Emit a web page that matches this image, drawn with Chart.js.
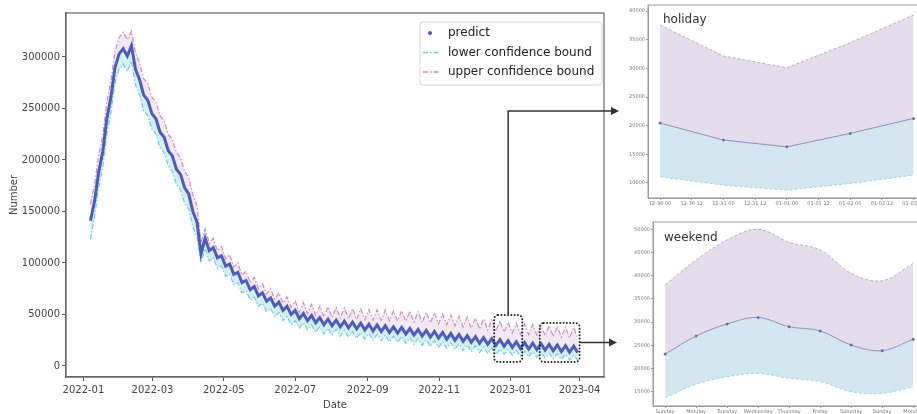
<!DOCTYPE html>
<html lang="en">
<head>
  <meta charset="UTF-8">
  <title>predict with confidence bounds</title>
  <script src="https://cdn.jsdelivr.net/npm/chart.js"></script>
  <style>
    body { margin: 0; background: #fff; overflow: hidden; }
    #wrap { position: relative; width: 917px; height: 414px; overflow: hidden; }
    canvas { position: absolute; }
  </style>
</head>
<body>
<div id="wrap">
  <canvas id="main" width="625" height="414" style="left:0;top:0"></canvas>
  <canvas id="holiday" width="320" height="210" style="left:612px;top:0"></canvas>
  <canvas id="weekend" width="320" height="202" style="left:612px;top:212px"></canvas>
</div>

<script>
  // main chart: one sample every half week, days counted from 2022-01-01
  const firstDay = 6;
  const halfWeek = 3.5;

  const predict = [141000,160000,188000,208000,240000,261000,290000,303000,308000,301000,
    311000,288000,278000,263000,258000,245000,240000,227000,222000,209000,
    204000,191000,186000,173000,167000,150000,140000,109000,124000,112000,
    115000,105000,107000,97000,99000,89000,91000,81000,83000,74000,
    77000,68000,71000,63000,66000,58000,62000,54000,58000,50000,
    54000,46000,51000,44000,49000,42000,47000,40000,45500,39000,
    44500,38000,43500,37000,42500,36000,41500,35000,40500,34000,
    39800,33500,39000,32500,38000,32000,37500,31000,36500,30000,
    35500,29000,34500,28000,33500,27000,32500,26000,31500,25000,
    30500,24000,29500,23000,28500,22000,27500,21000,26500,20000,
    25500,19000,24500,18000,23500,17000,22800,16500,22200,16000,
    21700,15400,21000,14700,20400,14000,19700,13400,19200,13000];

  const upper = [157000,176000,204000,224000,256000,277000,306000,319000,324000,317000,
    325000,304000,294000,279000,274000,261000,256000,243000,238000,225000,
    220000,207000,202000,189000,183000,166000,156000,120000,133000,119000,
    124000,112000,116000,104000,108000,96000,100000,88000,92000,81000,
    86000,75000,80000,70000,75000,65000,71000,61000,67000,57000,
    63000,52000,61500,50700,59900,49200,58400,47600,57400,47100,
    56900,46600,56300,46100,55800,45500,55300,45000,54700,44500,
    54500,44400,54200,43900,53600,43900,53600,43400,53100,42800,
    52600,42300,52000,41800,51500,41000,50500,40000,49500,39000,
    48500,38000,47500,37000,46500,36000,45500,35000,44500,34000,
    43500,33000,42500,32000,41500,31000,40800,30500,40200,30000,
    39700,29400,39000,28700,38400,28000,37700,27400,37200,27000];

  const lower = [123000,145000,173000,193000,225000,246000,275000,288000,293000,286000,
    296000,273000,263000,248000,243000,230000,225000,212000,207000,194000,
    189000,176000,171000,158000,152000,135000,125000,100000,114000,102000,
    105000,95000,97000,87000,89000,79000,81000,71000,73000,64000,
    67000,58000,61000,53000,56000,48000,52000,44000,48000,40000,
    44000,37000,42000,35000,40000,33000,38000,31000,36500,30000,
    35500,29000,34500,28000,33500,27000,32500,26000,31500,25000,
    30800,24500,30000,23500,29000,23000,28500,22000,27500,21000,
    26500,20000,25500,19000,24500,18000,23500,17000,22500,16000,
    21500,15000,20500,14000,19500,13000,18500,12000,17500,11000,
    16500,11500,16000,10500,15000,9500,14300,9000,13700,8500,
    13200,7900,12500,7200,11900,6500,11200,5900,10700,5500];

  const xTickLabels = ['2022-01', '2022-03', '2022-05', '2022-07', '2022-09', '2022-11', '2023-01', '2023-04'];
  const xTickDays = [0, 59, 120, 181, 243, 304, 365, 424];
  const yTicks = [0, 50000, 100000, 150000, 200000, 250000, 300000];

  // insets
  const holidayTicks = ['12-30 00', '12-30 12', '12-31 00', '12-31 12', '01-01 00', '01-01 12', '01-02 00', '01-02 12', '01-03 00'];
  const holidayDates = ['12-30 00', '12-31 00', '01-01 00', '01-02 00', '01-03 00'];
  const holidayPredict = [20450, 17500, 16300, 18650, 21270];
  const holidayUpper = [37550, 32150, 30100, 34470, 39300];
  const holidayLower = [11080, 9630, 8760, 9930, 11380];
  const holidayYTicks = [10000, 15000, 20000, 25000, 30000, 35000, 40000];

  const weekendDays = ['Sunday', 'Monday', 'Tuesday', 'Wednesday', 'Thursday', 'Friday', 'Saturday', 'Sunday', 'Monday'];
  const weekendPredict = [23100, 27000, 29600, 31000, 29000, 28100, 25050, 23850, 26300];
  const weekendUpper = [38000, 43400, 47700, 50000, 47200, 45550, 40500, 38900, 42650];
  const weekendLower = [13700, 16650, 18230, 18950, 17900, 17200, 15000, 14650, 16050];
  const weekendYTicks = [15000, 20000, 25000, 30000, 35000, 40000, 45000, 50000];

  // zoom boxes on the main chart (days / values)
  const zoomBoxes = [
    { from: 351, to: 375, top: 49500, bottom: 3900 },
    { from: 390, to: 424, top: 41700, bottom: 3900 }
  ];
  const arrowLevel = 247500;

  Chart.defaults.font.family = 'DejaVu Sans';
  Chart.defaults.animation = false;

  const asPoints = vals => vals.map((v, i) => ({ x: firstDay + i * halfWeek, y: v }));

  const predictColor = '#4b5db9';
  const lowerColor = '#74cbd8';
  const upperColor = '#c98cc2';

  function arrowHead(ctx, x, y) {
    ctx.beginPath();
    ctx.moveTo(x, y);
    ctx.lineTo(x - 8, y - 4);
    ctx.lineTo(x - 8, y + 4);
    ctx.closePath();
    ctx.fill();
  }

  const mainExtras = {
    id: 'mainExtras',
    afterDraw(chart) {
      const { ctx, chartArea: a, scales: { x, y } } = chart;
      ctx.save();
      ctx.strokeStyle = '#666';
      ctx.lineWidth = 1.2;
      ctx.strokeRect(a.left, a.top, a.right - a.left, a.bottom - a.top);

      // dotted zoom boxes
      ctx.strokeStyle = '#222';
      ctx.lineWidth = 2;
      ctx.lineCap = 'round';
      ctx.setLineDash([0, 3.3]);
      const px = zoomBoxes.map(b => ({
        l: x.getPixelForValue(b.from), r: x.getPixelForValue(b.to),
        t: y.getPixelForValue(b.top), b: y.getPixelForValue(b.bottom)
      }));
      px.forEach(p => {
        ctx.beginPath();
        ctx.roundRect(p.l, p.t, p.r - p.l, p.b - p.t, 4);
        ctx.stroke();
      });

      // arrows to the insets
      ctx.setLineDash([]);
      ctx.lineCap = 'butt';
      ctx.strokeStyle = '#333';
      ctx.fillStyle = '#333';
      ctx.lineWidth = 1.5;
      const ay = y.getPixelForValue(arrowLevel);
      const cx = (px[0].l + px[0].r) / 2;
      ctx.beginPath();
      ctx.moveTo(cx, px[0].t);
      ctx.lineTo(cx, ay);
      ctx.lineTo(a.right + 8, ay);
      ctx.stroke();
      arrowHead(ctx, a.right + 15, ay);
      const my = (px[1].t + px[1].b) / 2;
      ctx.beginPath();
      ctx.moveTo(px[1].r, my);
      ctx.lineTo(a.right + 6, my);
      ctx.stroke();
      arrowHead(ctx, a.right + 13, my);

      // legend box
      const lw = 182, lh = 63;
      const lx = a.right - lw - 2, ly = a.top + 9;
      ctx.fillStyle = 'rgba(255,255,255,0.85)';
      ctx.strokeStyle = '#d4d4d4';
      ctx.lineWidth = 1;
      ctx.beginPath();
      ctx.roundRect(lx, ly, lw, lh, 3);
      ctx.fill();
      ctx.stroke();
      const rows = [
        { text: 'predict', kind: 'dot', color: predictColor },
        { text: 'lower confidence bound', kind: 'line', color: lowerColor },
        { text: 'upper confidence bound', kind: 'line', color: upperColor }
      ];
      ctx.font = '12px "DejaVu Sans"';
      ctx.textBaseline = 'middle';
      rows.forEach((r, i) => {
        const ry = ly + 11 + i * 19.5;
        if (r.kind === 'dot') {
          ctx.fillStyle = r.color;
          ctx.beginPath();
          ctx.arc(lx + 10, ry, 2, 0, Math.PI * 2);
          ctx.fill();
        } else {
          ctx.strokeStyle = r.color;
          ctx.lineWidth = 1.3;
          ctx.setLineDash([5, 2, 1.5, 2]);
          ctx.beginPath();
          ctx.moveTo(lx + 3, ry);
          ctx.lineTo(lx + 19, ry);
          ctx.stroke();
          ctx.setLineDash([]);
        }
        ctx.fillStyle = '#222';
        ctx.fillText(r.text, lx + 28, ry);
      });
      ctx.restore();
    }
  };

  new Chart(document.getElementById('main'), {
    type: 'line',
    data: {
      datasets: [
        {
          label: 'predict',
          data: asPoints(predict),
          borderColor: predictColor,
          borderWidth: 3,
          pointRadius: 0,
          fill: false
        },
        {
          label: 'lower confidence bound',
          data: asPoints(lower),
          borderColor: lowerColor,
          borderWidth: 1.2,
          borderDash: [5, 2, 1.5, 2],
          pointRadius: 0,
          fill: { target: 0 },
          backgroundColor: 'rgba(130, 208, 224, 0.35)'
        },
        {
          label: 'upper confidence bound',
          data: asPoints(upper),
          borderColor: upperColor,
          borderWidth: 1.2,
          borderDash: [5, 2, 1.5, 2],
          pointRadius: 0,
          fill: { target: 0 },
          backgroundColor: 'rgba(214, 174, 216, 0.3)'
        }
      ]
    },
    options: {
      responsive: false,
      devicePixelRatio: 1,
      layout: { padding: { left: 0, top: 13, right: 21, bottom: 0 } },
      plugins: { legend: { display: false }, tooltip: { enabled: false } },
      scales: {
        x: {
          type: 'linear',
          min: -14.9,
          max: 444.9,
          afterBuildTicks: s => { s.ticks = xTickDays.map(v => ({ value: v })); },
          afterFit: s => { s.height = 37; },
          ticks: {
            autoSkip: false,
            maxRotation: 0,
            padding: 3,
            color: '#444',
            font: { size: 10 },
            callback: (v, i) => xTickLabels[i]
          },
          grid: { drawOnChartArea: false, drawTicks: true, tickLength: 4, color: '#555' },
          border: { display: true, color: '#666', width: 1.2 },
          title: { display: true, text: 'Date', color: '#444', font: { size: 10 }, padding: { top: 3, bottom: 3 } }
        },
        y: {
          min: -10700,
          max: 342700,
          afterBuildTicks: s => { s.ticks = yTicks.map(v => ({ value: v })); },
          afterFit: s => { s.width = 66; },
          ticks: { padding: 2, color: '#444', font: { size: 10 }, callback: v => String(v) },
          grid: { drawOnChartArea: false, drawTicks: true, tickLength: 4, color: '#555' },
          border: { display: true, color: '#666', width: 1.2 },
          title: { display: true, text: 'Number', color: '#444', font: { size: 10 }, padding: { top: 8, bottom: 8 } }
        }
      }
    },
    plugins: [mainExtras]
  });

  function makeInset(id, cfg) {
    const pts = vals => vals.map((v, i) => ({ x: cfg.xs[i], y: v }));
    const extras = {
      id: 'insetExtras',
      afterDraw(chart) {
        const { ctx, chartArea: a } = chart;
        ctx.save();
        ctx.strokeStyle = '#9a9a9a';
        ctx.lineWidth = 1;
        ctx.strokeRect(a.left, a.top, a.right - a.left, a.bottom - a.top);
        ctx.fillStyle = '#333';
        ctx.font = '12px "DejaVu Sans"';
        ctx.textBaseline = 'middle';
        ctx.fillText(cfg.name, a.left + cfg.nameX, a.top + cfg.nameY);
        ctx.restore();
      }
    };
    new Chart(document.getElementById(id), {
      type: 'line',
      data: {
        datasets: [
          {
            data: pts(cfg.predict),
            borderColor: '#8e90b8',
            borderWidth: 1,
            pointRadius: 1.5,
            pointBackgroundColor: '#6d6f9e',
            pointBorderWidth: 0,
            tension: cfg.tension,
            fill: false
          },
          {
            data: pts(cfg.lower),
            borderColor: '#9ad6e3',
            borderWidth: 1,
            borderDash: [3, 2],
            pointRadius: 0,
            tension: cfg.tension,
            fill: { target: 0 },
            backgroundColor: '#d3e7f1'
          },
          {
            data: pts(cfg.upper),
            borderColor: '#c0a6cc',
            borderWidth: 1,
            borderDash: [3, 2],
            pointRadius: 0,
            tension: cfg.tension,
            fill: { target: 0 },
            backgroundColor: '#e5dcec'
          }
        ]
      },
      options: {
        responsive: false,
        devicePixelRatio: 1,
        layout: { padding: { left: 0, top: cfg.top, right: 7, bottom: 0 } },
        plugins: { legend: { display: false }, tooltip: { enabled: false } },
        scales: {
          x: {
            type: 'linear',
            min: cfg.xMin,
            max: cfg.xMax,
            afterBuildTicks: s => { s.ticks = cfg.xLabels.map((_, i) => ({ value: i })); },
            afterFit: s => { s.height = cfg.xHeight; },
            ticks: { autoSkip: false, maxRotation: 0, padding: 1, color: '#777', font: { size: 5 }, callback: (v, i) => cfg.xLabels[i] },
            grid: { drawOnChartArea: false, tickLength: 2, color: '#999' },
            border: { display: true, color: '#9a9a9a' }
          },
          y: {
            min: cfg.yMin,
            max: cfg.yMax,
            afterBuildTicks: s => { s.ticks = cfg.yTicks.map(v => ({ value: v })); },
            afterFit: s => { s.width = cfg.yWidth; },
            ticks: { padding: 1, color: '#777', font: { size: 5 }, callback: v => String(v) },
            grid: { drawOnChartArea: false, tickLength: 2, color: '#999' },
            border: { display: true, color: '#9a9a9a' }
          }
        }
      },
      plugins: [extras]
    });
  }

  makeInset('holiday', {
    name: 'holiday', nameX: 15, nameY: 15,
    xs: holidayDates.map(d => holidayTicks.indexOf(d)),
    xLabels: holidayTicks,
    predict: holidayPredict, lower: holidayLower, upper: holidayUpper,
    yTicks: holidayYTicks, yMin: 7380, yMax: 41050,
    xMin: -0.38, xMax: 8.36,
    top: 5, xHeight: 12, yWidth: 36, tension: 0
  });

  makeInset('weekend', {
    name: 'weekend', nameX: 11, nameY: 16,
    xs: weekendDays.map((_, i) => i),
    xLabels: weekendDays,
    predict: weekendPredict, lower: weekendLower, upper: weekendUpper,
    yTicks: weekendYTicks, yMin: 11920, yMax: 51570,
    xMin: -0.39, xMax: 8.38,
    top: 10, xHeight: 8, yWidth: 41, tension: 0.35
  });
</script>
</body>
</html>
